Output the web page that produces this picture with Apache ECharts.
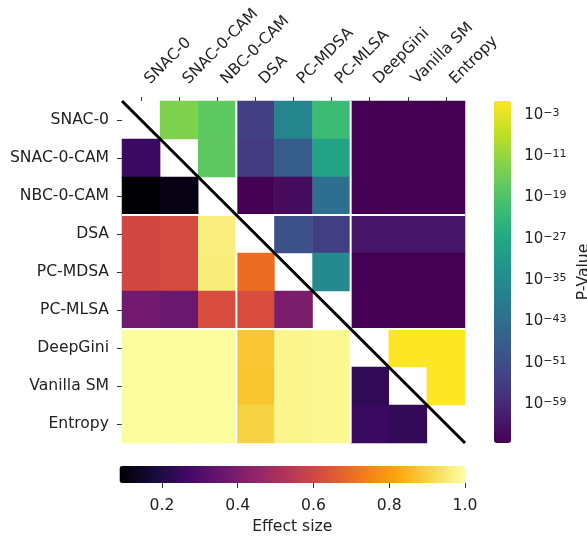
<!DOCTYPE html>
<html><head><meta charset="utf-8">
<script src="https://cdn.jsdelivr.net/npm/echarts@6/dist/echarts.min.js"></script>
<style>html,body{margin:0;padding:0;background:#fff}#c{width:587px;height:536px}</style>
</head><body><div id="c"></div>
<script>
const categories = ['SNAC-0','SNAC-0-CAM','NBC-0-CAM','DSA','PC-MDSA','PC-MLSA','DeepGini','Vanilla SM','Entropy'];
// upper triangle p-values: row i, columns i+1..8
const pValues = [
  [1e-13, 1e-17, 3e-55, 2e-37, 3e-22, 3e-67, 3e-67, 3e-67],
  [1e-17, 5e-56, 5e-48, 8e-29, 3e-67, 3e-67, 3e-67],
  [3e-67, 2e-65, 2e-43, 3e-67, 3e-67, 3e-67],
  [5e-51, 3e-55, 2e-63, 2e-63, 2e-63],
  [4e-36, 3e-67, 3e-67, 3e-67],
  [3e-67, 3e-67, 3e-67],
  [0.5, 0.5],
  [0.5]
];
// lower triangle effect sizes: row i, columns 0..i-1
const effectSizes = [
  [],
  [0.252],
  [0.090, 0.115],
  [0.600, 0.612, 0.963],
  [0.600, 0.612, 0.960, 0.699],
  [0.380, 0.362, 0.620, 0.620, 0.398],
  [0.995, 0.995, 0.995, 0.880, 0.977, 0.982],
  [0.995, 0.995, 0.995, 0.876, 0.977, 0.982, 0.234],
  [0.995, 0.995, 0.995, 0.902, 0.977, 0.982, 0.252, 0.238]
];
const pTicks = [-3, -11, -19, -27, -35, -43, -51, -59];
const effTicks = [0.2, 0.4, 0.6, 0.8, 1.0];
const pRange = [-66.55, -0.29];
const effRange = [0.088, 1.0];
const separators = [3, 6];

const viridis = ['#440154','#482475','#414487','#355f8d','#2a788e','#21918c','#22a884','#44bf70','#7ad151','#bddf26','#fde725'];
const inferno = ['#000004','#160b39','#420a68','#6a176e','#932667','#bc3754','#dd513a','#f37819','#fca50a','#f6d746','#fcffa4'];

const pData = [];
pValues.forEach((row, i) => row.forEach((p, k) => pData.push([i + 1 + k, i, Math.log10(p)])));
const eData = [];
effectSizes.forEach((row, i) => row.forEach((v, j) => eData.push([j, i, v])));

const FONT = 'DejaVu Sans';
const TXT = '#222';
const FS = 15.6;
const GL = 122, GT = 101, GW = 343, GH = 342;
const n = categories.length;

const sepSeries = [];
separators.forEach(s => {
  sepSeries.push({type:'line', xAxisIndex:1, yAxisIndex:1, data:[[s,0],[s,n]], symbol:'none', silent:true, z:5, lineStyle:{color:'#fff', width:2}});
  sepSeries.push({type:'line', xAxisIndex:1, yAxisIndex:1, data:[[0,s],[n,s]], symbol:'none', silent:true, z:5, lineStyle:{color:'#fff', width:2}});
});

const chart = echarts.init(document.getElementById('c'), null, {renderer:'canvas'});
chart.setOption({
  animation: false,
  backgroundColor: '#fff',
  textStyle: {fontFamily: FONT},
  grid: [
    {left: GL, top: GT, width: GW, height: GH},
    {left: GL, top: GT, width: GW, height: GH},
    {left: 494, top: GT, width: 17, height: GH},
    {left: 119.5, top: 466, width: 345.5, height: 17}
  ],
  xAxis: [
    {type:'category', data: categories, position:'top', gridIndex:0,
     axisLine:{show:false}, splitLine:{show:false},
     axisTick:{show:true, alignWithLabel:true, length:4, lineStyle:{color:'#333'}},
     axisLabel:{rotate:-45, color:TXT, fontSize:FS, fontFamily:FONT, margin:13, padding:[0,0,0,9], interval:0}},
    {type:'value', gridIndex:1, min:0, max:n, show:false},
    {type:'value', gridIndex:2, show:false},
    {type:'value', gridIndex:3, min:effRange[0], max:effRange[1], position:'bottom',
     axisLine:{show:false}, splitLine:{show:false},
     axisTick:{show:true, length:5, customValues: effTicks, lineStyle:{color:'#333'}},
     axisLabel:{customValues: effTicks, color:TXT, fontSize:FS, fontFamily:FONT, margin:15,
       formatter: v => v.toFixed(1)},
     name:'Effect size', nameLocation:'middle', nameGap:36,
     nameTextStyle:{color:TXT, fontSize:FS, fontFamily:FONT}}
  ],
  yAxis: [
    {type:'category', data: categories, inverse:true, gridIndex:0,
     axisLine:{show:false}, splitLine:{show:false},
     axisTick:{show:true, alignWithLabel:true, length:5, lineStyle:{color:'#333'}},
     axisLabel:{color:TXT, fontSize:FS, fontFamily:FONT, margin:13, interval:0}},
    {type:'value', gridIndex:1, min:0, max:n, inverse:true, show:false},
    {type:'value', gridIndex:2, min:pRange[0], max:pRange[1], position:'right',
     axisLine:{show:false}, splitLine:{show:false},
     axisTick:{show:true, length:4, customValues: pTicks, lineStyle:{color:'#333'}},
     axisLabel:{customValues: pTicks, color:TXT, fontFamily:FONT, margin:26,
       formatter: v => '{b|10}{s|\u2212' + Math.abs(Math.round(v)) + '}',
       rich:{
         b:{fontSize:15, lineHeight:15, padding:[4,0,0,0], verticalAlign:'bottom', color:TXT, fontFamily:FONT},
         s:{fontSize:11, lineHeight:14, verticalAlign:'top', color:TXT, fontFamily:FONT}
       }},
     name:'P-Value', nameLocation:'middle', nameRotate:90, nameGap:78,
     nameTextStyle:{color:TXT, fontSize:FS, fontFamily:FONT}},
    {type:'value', gridIndex:3, show:false}
  ],
  visualMap: [
    {type:'continuous', seriesIndex:0, dimension:2, min:pRange[0], max:pRange[1],
     orient:'vertical', left:494, top:GT, padding:0, itemWidth:17, itemHeight:GH,
     calculable:false, hoverLink:false, realtime:false, text:null, showLabel:false,
     inRange:{color: viridis}},
    {type:'continuous', seriesIndex:1, dimension:2, min:effRange[0], max:effRange[1],
     orient:'horizontal', left:119.5, top:466, padding:0, itemWidth:17, itemHeight:345.5,
     calculable:false, hoverLink:false, realtime:false, text:null, showLabel:false,
     inRange:{color: inferno}}
  ],
  series: [
    {type:'heatmap', xAxisIndex:0, yAxisIndex:0, data:pData, silent:true, emphasis:{disabled:true}},
    {type:'heatmap', xAxisIndex:0, yAxisIndex:0, data:eData, silent:true, emphasis:{disabled:true}},
    ...sepSeries,
    {type:'line', xAxisIndex:1, yAxisIndex:1, data:[[0,0],[n,n]], symbol:'none', silent:true, z:6,
     lineStyle:{color:'#000', width:3}}
  ]
});
</script></body></html>
